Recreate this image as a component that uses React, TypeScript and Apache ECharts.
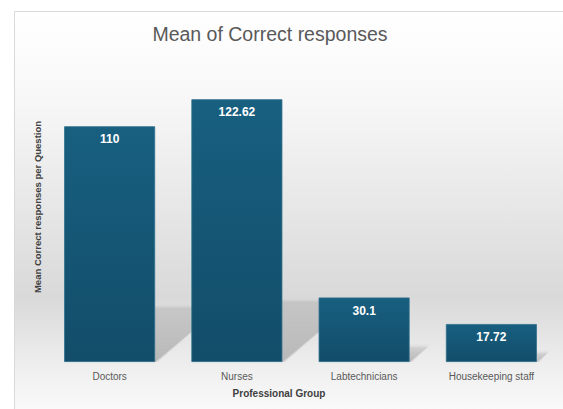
import React, { useEffect, useRef } from "react";
import * as echarts from "echarts";

const categories = ["Doctors", "Nurses", "Labtechnicians", "Housekeeping staff"];
const values = [110, 122.62, 30.1, 17.72];
const titleText = "Mean of Correct responses";
const xTitle = "Professional Group";
const yTitle = "Mean Correct responses per Question";

export default function App() {
  const ref = useRef<HTMLDivElement>(null);
  useEffect(() => {
    if (!ref.current) return;
    const chart = echarts.init(ref.current, null, { renderer: "svg" });
    const barFrac = 0.715;
    const shadowData = values.map((v, i) => [i, v]);
    chart.setOption({
      animation: false,
      backgroundColor: "#ffffff",
      graphic: [
        {
          type: "rect",
          z: -10,
          silent: true,
          shape: { x: 14.5, y: 11.5, width: 580, height: 420 },
          style: {
            stroke: "#d9d9d9",
            lineWidth: 1,
            fill: new echarts.graphic.LinearGradient(0, 0, 0, 1, [
              { offset: 0, color: "#ffffff" },
              { offset: 0.2, color: "#f8f8f8" },
              { offset: 0.68, color: "#d9d9d9" },
              { offset: 0.85, color: "#efefef" },
              { offset: 1, color: "#ffffff" },
            ]),
          },
        },
        {
          type: "text",
          x: 270,
          y: 34,
          style: {
            text: titleText,
            fill: "#595959",
            font: "19.5px 'Liberation Sans', Arial, sans-serif",
            align: "center",
            verticalAlign: "middle",
          },
        },
        {
          type: "text",
          x: 279,
          y: 393,
          style: {
            text: xTitle,
            fill: "#404040",
            font: "bold 10px 'Liberation Sans', Arial, sans-serif",
            align: "center",
            verticalAlign: "middle",
          },
        },
        {
          type: "text",
          x: 37,
          y: 207,
          rotation: Math.PI / 2,
          style: {
            text: yTitle,
            fill: "#404040",
            font: "bold 9.5px 'Liberation Sans', Arial, sans-serif",
            align: "center",
            verticalAlign: "middle",
          },
        },
      ],
      grid: { left: 46, right: 8, top: 62, bottom: 47 },
      xAxis: {
        type: "category",
        data: categories,
        axisLine: { show: false },
        axisTick: { show: false },
        axisLabel: {
          color: "#595959",
          fontSize: 10,
          margin: 9,
          fontFamily: "'Liberation Sans', Arial, sans-serif",
        },
      },
      yAxis: { type: "value", min: 0, max: 140, show: false, splitLine: { show: false } },
      series: [
        {
          type: "custom",
          z: 1,
          silent: true,
          data: shadowData,
          encode: { x: 0, y: 1 },
          renderItem: (params: any, api: any) => {
            const i = api.value(0);
            const v = api.value(1);
            const top = api.coord([i, v]);
            const base = api.coord([i, 0]);
            const band = api.size([1, 0])[0];
            const w = band * barFrac;
            const L = base[0] - w / 2;
            const R = base[0] + w / 2;
            const B = base[1];
            const h = (B - top[1]) * 0.23;
            const dx = h * 1.2;
            const mk = (grow: number, a0: number, a1: number) => ({
              type: "polygon",
              shape: {
                points: [
                  [L, B],
                  [R + grow, B],
                  [R + dx + grow, B - h - grow],
                  [L + dx, B - h - grow],
                ],
              },
              style: {
                fill: new echarts.graphic.LinearGradient(0, 1, 0, 0, [
                  { offset: 0, color: `rgba(0,0,0,${a0})` },
                  { offset: 1, color: `rgba(0,0,0,${a1})` },
                ]),
              },
            });
            return {
              type: "group",
              children: [mk(3, 0.05, 0.02), mk(1.5, 0.07, 0.03), mk(0, 0.12, 0.05)],
            };
          },
        },
        {
          type: "bar",
          z: 3,
          data: values,
          barWidth: barFrac * 100 + "%",
          itemStyle: {
            color: new echarts.graphic.LinearGradient(0, 0, 0, 1, [
              { offset: 0, color: "#185f80" },
              { offset: 1, color: "#124d69" },
            ]),
            borderColor: "#2f6f8c",
            borderWidth: 0.8,
          },
          label: {
            show: true,
            position: "insideTop",
            distance: 7,
            color: "#ffffff",
            fontWeight: "bold",
            fontSize: 12,
            fontFamily: "'Liberation Sans', Arial, sans-serif",
          },
        },
      ],
    });
    return () => chart.dispose();
  }, []);
  return (
    <div
      ref={ref}
      style={{ position: "fixed", left: 0, top: 0, width: 563, height: 409 }}
    />
  );
}
